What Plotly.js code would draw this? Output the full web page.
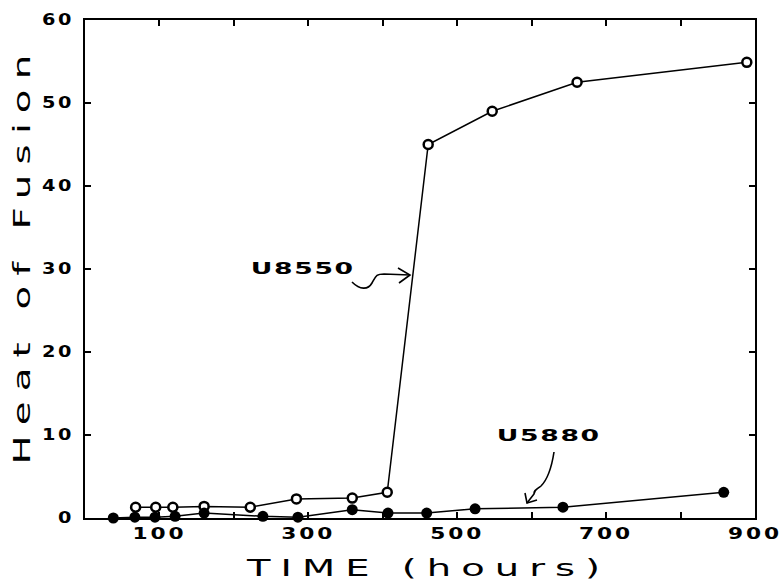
<!DOCTYPE html>
<html>
<head>
<meta charset="utf-8">
<script src="https://cdn.plot.ly/plotly-3.0.1.min.js"></script>
<style>
  html, body { margin: 0; padding: 0; background: #fff; }
  #chart { width: 782px; height: 581px; }
  .xtick text, .ytick text { letter-spacing: 2px; }
  .annotation-text.big { letter-spacing: 6px; }
  .annotation-text.lbl { letter-spacing: 1px; }
</style>
</head>
<body>
<div id="chart"></div>
<script>
// ---- data ----
const hoursU8550 = [68, 95, 118, 160, 222, 284, 359, 406, 461, 547, 661, 889];
const heatU8550  = [1.3, 1.3, 1.3, 1.4, 1.3, 2.3, 2.4, 3.1, 45.0, 49.0, 52.5, 54.9];
const hoursU5880 = [38, 67, 94, 121, 160, 239, 286, 359, 407, 459, 524, 642, 858];
const heatU5880  = [0.0, 0.1, 0.1, 0.2, 0.6, 0.2, 0.1, 1.0, 0.6, 0.6, 1.1, 1.3, 3.1];
const xTickVals  = [100, 200, 300, 400, 500, 600, 700, 800, 900];
const xTickText  = ['100', '', '300', '', '500', '', '700', '', '900'];
const yTickVals  = [0, 10, 20, 30, 40, 50, 60];
const yTickText  = ['0', '10', '20', '30', '40', '50', '60'];
const seriesNames = ['U8550', 'U5880'];
const xTitle = 'TIME (hours)';
const yTitle = 'Heat of Fusion';

// helper: map reference pixel position to data coordinates (for decorative arrows)
const L = 85, R = 755, T = 20, B = 518;
function px(x) { return (x - L) / (R - L) * 900; }
function py(y) { return (B - y) / (B - T) * 60; }
function path(cmds) {
  return cmds.map(c => typeof c === 'string' ? c : (px(c[0]).toFixed(2) + ',' + py(c[1]).toFixed(3))).join(' ');
}

const traces = [
  {
    x: hoursU8550, y: heatU8550, name: seriesNames[0], type: 'scatter', mode: 'lines+markers',
    line: { color: '#000', width: 1.5 },
    marker: { symbol: 'circle', size: 9, color: '#fff', line: { color: '#000', width: 2.5 } },
    cliponaxis: false
  },
  {
    x: hoursU5880, y: heatU5880, name: seriesNames[1], type: 'scatter', mode: 'lines+markers',
    line: { color: '#000', width: 1.5 },
    marker: { symbol: 'circle', size: 11, color: '#000' },
    cliponaxis: false
  }
];

const fontTick = { family: 'DejaVu Sans', size: 15, color: '#000', weight: 'bold' };
const fontBig = { family: 'DejaVu Sans', size: 23, color: '#000' };
const fontLbl = { family: 'DejaVu Sans', size: 16, color: '#000', weight: 'bold' };

const arrowLine = { color: '#000', width: 1.6 };

const layout = {
  width: 782, height: 581,
  margin: { l: L, r: 782 - R, t: T, b: 581 - B, pad: 0 },
  paper_bgcolor: '#fff', plot_bgcolor: '#fff',
  showlegend: false,
  xaxis: {
    range: [0, 900], tickmode: 'array', tickvals: xTickVals, ticktext: xTickText,
    ticks: 'inside', ticklen: 6, tickwidth: 2, tickcolor: '#000',
    showline: true, linewidth: 2, linecolor: '#000', mirror: 'ticks',
    showgrid: false, zeroline: false, tickfont: fontTick, ticklabelstandoff: 1,
    ticklabeloverflow: 'allow'
  },
  yaxis: {
    range: [0, 60], tickmode: 'array', tickvals: yTickVals, ticktext: yTickText,
    ticks: 'inside', ticklen: 6, tickwidth: 2, tickcolor: '#000',
    showline: true, linewidth: 2, linecolor: '#000', mirror: 'ticks',
    showgrid: false, zeroline: false, tickfont: fontTick, ticklabelstandoff: 6,
    ticklabeloverflow: 'allow'
  },
  annotations: [
    { text: xTitle, xref: 'paper', yref: 'paper', x: 0.512, y: -0.1, xanchor: 'center', yanchor: 'middle',
      showarrow: false, font: fontBig },
    { text: yTitle, xref: 'paper', yref: 'paper', x: -0.094, y: 0.528, xanchor: 'center', yanchor: 'middle',
      textangle: -90, showarrow: false, font: fontBig },
    { text: seriesNames[0], xref: 'x', yref: 'y', x: px(303), y: py(268), showarrow: false, font: fontLbl },
    { text: seriesNames[1], xref: 'x', yref: 'y', x: px(549), y: py(435), showarrow: false, font: fontLbl }
  ],
  shapes: [
    { type: 'path', xref: 'x', yref: 'y', line: arrowLine,
      path: path(['M', [352, 282], 'C', [360, 290], [368, 290], [372, 283], 'S', [376, 274], [384, 274], 'L', [410, 275]]) },
    { type: 'path', xref: 'x', yref: 'y', line: arrowLine,
      path: path(['M', [398, 268], 'L', [410, 275], 'L', [399, 283]]) },
    { type: 'path', xref: 'x', yref: 'y', line: arrowLine,
      path: path(['M', [554, 452], 'C', [552, 465], [549, 478], [541, 486], 'C', [536, 490], [534, 490], [534, 494], 'L', [527, 503]]) },
    { type: 'path', xref: 'x', yref: 'y', line: arrowLine,
      path: path(['M', [525, 493], 'L', [527, 503], 'L', [537, 500]]) }
  ]
};

function stretch(el, len) {
  el.setAttribute('textLength', len);
  el.setAttribute('lengthAdjust', 'spacingAndGlyphs');
}

Plotly.newPlot('chart', traces, layout, { staticPlot: true }).then(function (gd) {
  // widen the lettering like the extended plotter font of the original
  gd.querySelectorAll('.annotation-text').forEach(function (t) {
    const s = t.textContent;
    if (s === xTitle) { t.classList.add('big'); stretch(t, 363); }
    else if (s === yTitle) { t.classList.add('big'); stretch(t, 420); }
    else { t.classList.add('lbl'); stretch(t, 104); }
  });
  gd.querySelectorAll('.xtick text').forEach(function (t) {
    const n = t.textContent.length;
    if (n) stretch(t, n * 18);
  });
  gd.querySelectorAll('.ytick text').forEach(function (t) {
    const n = t.textContent.length;
    if (n) stretch(t, n * 16);
  });
});
</script>
</body>
</html>
